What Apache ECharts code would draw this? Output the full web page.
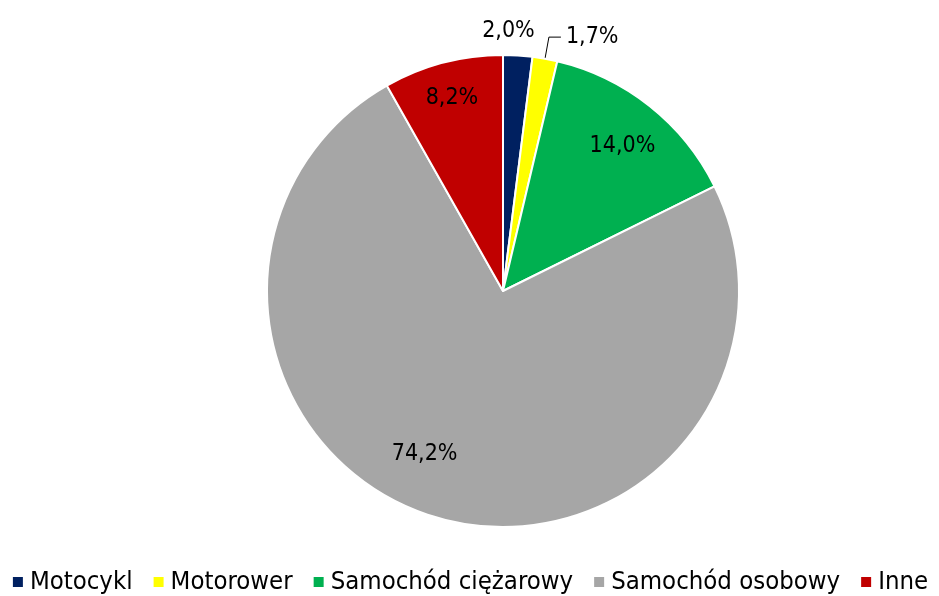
<!DOCTYPE html>
<html>
<head>
<meta charset="utf-8">
<style>
  html, body { margin: 0; padding: 0; background: #fff; }
  #chart { width: 939px; height: 596px; }
</style>
<script src="https://cdn.jsdelivr.net/npm/echarts@6/dist/echarts.min.js"></script>
</head>
<body>
<div id="chart"></div>
<script>
// Udział pojazdów (%)
const categories = ['Motocykl', 'Motorower', 'Samochód ciężarowy', 'Samochód osobowy', 'Inne'];
const shares = [2.0, 1.7, 14.0, 74.2, 8.2];
const sliceColors = ['#002060', '#FFFF00', '#00B050', '#A6A6A6', '#C00000'];

const FONT = '"DejaVu Sans Condensed", "DejaVu Sans", sans-serif';
const CX = 503, CY = 291, R = 236;

// radial placement of each label (fraction of radius) plus a small nudge
const labelRadius = [1.11, null, 0.80, 0.77, 0.85];
const labelNudge = [[-11, 1], null, [2, 3], [-25, -11], [0, 1]];

const total = shares.reduce((a, b) => a + b, 0);
function midAngle(i) {
  let before = 0;
  for (let k = 0; k < i; k++) before += shares[k];
  return ((before + shares[i] / 2) / total) * 2 * Math.PI;
}

const fmt = v => v.toFixed(1).replace('.', ',') + '%';

const data = categories.map((name, i) => {
  const item = { name: name, value: shares[i], itemStyle: { color: sliceColors[i] } };
  if (i === 1) {
    item.label = { position: 'outside', distanceToLabelLine: 5 };
    item.labelLine = { show: true, length: 22, length2: 12, lineStyle: { color: '#000', width: 1 } };
  } else if (i === 0) {
    item.label = { position: 'outside' };
    item.labelLine = { show: false };
  }
  return item;
});

const chart = echarts.init(document.getElementById('chart'), null, { renderer: 'canvas' });
chart.setOption({
  animation: false,
  backgroundColor: '#fff',
  legend: {
    data: categories,
    left: 'center',
    bottom: 1,
    width: 939,
    padding: 0,
    icon: 'rect',
    itemWidth: 12,
    itemHeight: 12,
    itemGap: 19,
    textStyle: { fontFamily: FONT, fontSize: 25.5, color: '#000', padding: [0, 0, 0, 1] }
  },
  series: [{
    type: 'pie',
    center: [CX, CY],
    radius: R,
    startAngle: 90,
    clockwise: true,
    avoidLabelOverlap: false,
    itemStyle: { borderColor: '#fff', borderWidth: 2 },
    label: {
      show: true,
      position: 'inside',
      formatter: p => fmt(p.value),
      fontFamily: FONT,
      fontSize: 23,
      color: '#000'
    },
    emphasis: { disabled: true },
    labelLayout: function (params) {
      const i = params.dataIndex;
      if (labelRadius[i] == null) return {};
      const a = midAngle(i);
      const r = R * labelRadius[i];
      return {
        x: CX + r * Math.sin(a) + labelNudge[i][0],
        y: CY - r * Math.cos(a) + labelNudge[i][1],
        align: 'center',
        verticalAlign: 'middle'
      };
    },
    data: data
  }]
});
</script>
</body>
</html>
